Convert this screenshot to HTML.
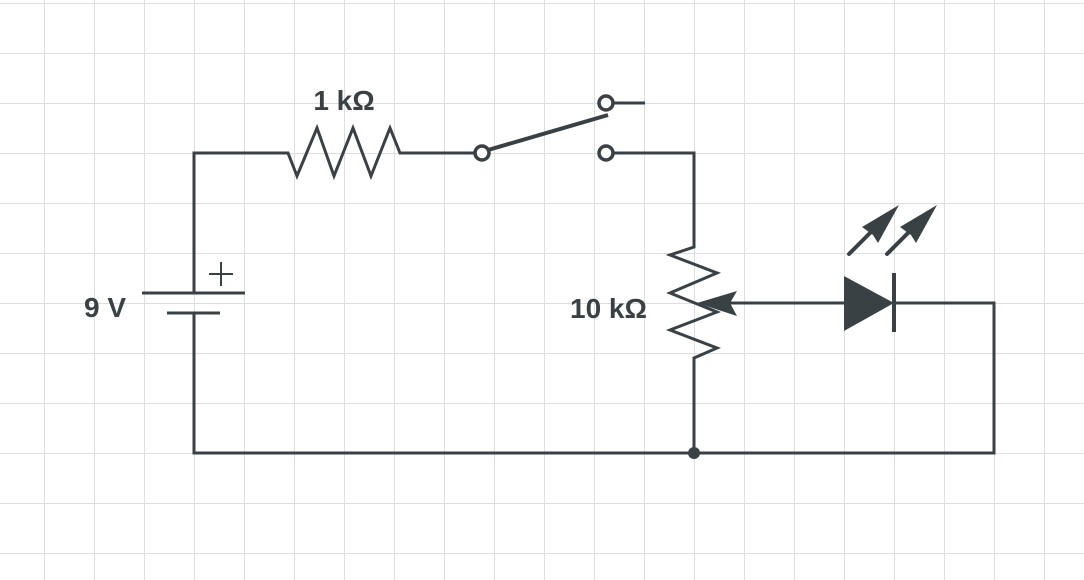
<!DOCTYPE html>
<html><head><meta charset="utf-8"><style>
html,body{margin:0;padding:0;background:#fff;}
svg{display:block;}
text{font-family:"Liberation Sans",sans-serif;font-weight:bold;fill:#3a4145;font-size:28px;}
</style></head><body>
<svg width="1084" height="580" viewBox="0 0 1084 580" xmlns="http://www.w3.org/2000/svg">
<defs>
<pattern id="g" x="-6" y="3" width="50" height="50" patternUnits="userSpaceOnUse">
<path d="M0 0H50M0 0V50" stroke="#dedede" stroke-width="2" fill="none"/>
</pattern>
</defs>
<rect width="1084" height="580" fill="url(#g)"/>
<g stroke="#3a4145" stroke-width="3" fill="none" stroke-linejoin="miter">
<polyline points="194,293 194,153 288,153 297,176 317,128 334,176 353,128 371,176 390,128 400,153 475,153"/>
<polyline points="194,313 194,453 994,453 994,303 894,303"/>
<line x1="142" y1="293" x2="245" y2="293"/>
<line x1="167" y1="313" x2="220" y2="313"/>
<line x1="209" y1="274" x2="233" y2="274" stroke-width="2"/>
<line x1="221" y1="262" x2="221" y2="286" stroke-width="2"/>
<line x1="488" y1="150" x2="608" y2="115" stroke-width="4"/>
<circle cx="482" cy="153" r="7" fill="#fff" stroke-width="3.5"/>
<circle cx="606" cy="103" r="7" fill="#fff" stroke-width="3.5"/>
<line x1="613" y1="103" x2="645" y2="103"/>
<circle cx="606" cy="153" r="7" fill="#fff" stroke-width="3.5"/>
<polyline points="613,153 694,153 694,247 670,255 717,273 670,293 717,312 670,330 717,348 694,358 694,453"/>
<line x1="720" y1="303" x2="845" y2="303"/>
<line x1="894" y1="273" x2="894" y2="332" stroke-width="4"/>
<line x1="849" y1="254" x2="880" y2="223" stroke-width="4" stroke-linecap="round"/>
<line x1="887" y1="254" x2="918" y2="223" stroke-width="4" stroke-linecap="round"/>
</g>
<g fill="#3a4145">
<polygon points="697,303 737,291 730,303 737,316"/>
<polygon points="844,276 844,331 894,303"/>
<polygon points="899,205 878,243 873,235 862,227"/>
<polygon points="937,205 916,243 911,235 900,227"/>
<circle cx="694" cy="453" r="6"/>
</g>
<text x="344" y="110" text-anchor="middle">1 kΩ</text>
<text x="84" y="317">9 V</text>
<text x="570" y="318">10 kΩ</text>
</svg>
</body></html>
